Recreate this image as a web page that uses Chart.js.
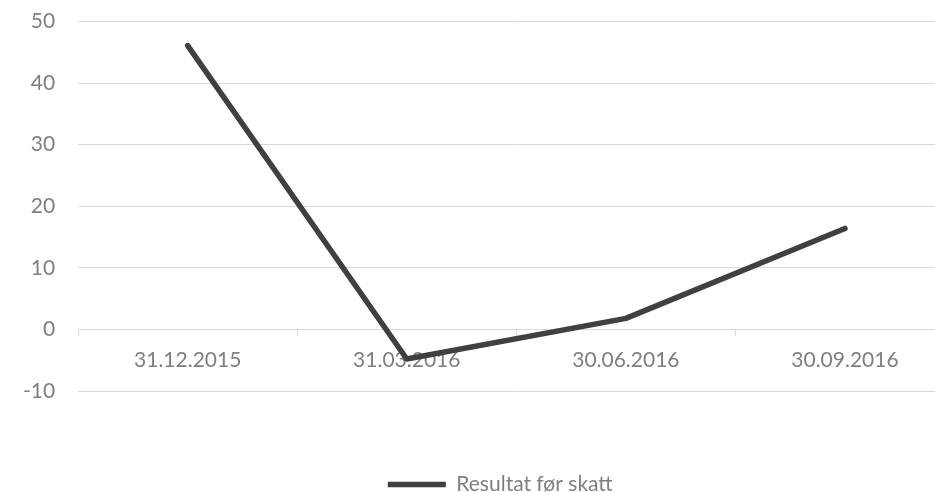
<!DOCTYPE html>
<html>
<head>
<meta charset="utf-8">
<script src="https://cdn.jsdelivr.net/npm/chart.js@4/dist/chart.umd.min.js"></script>
<style>
html,body{margin:0;padding:0;background:#fff;overflow:hidden;width:935px;height:492px;}
canvas{display:block;margin-top:-14px;}
</style>
</head>
<body>
<canvas id="c" width="960" height="506"></canvas>
<script>
const categories = ['31.12.2015', '31.03.2016', '30.06.2016', '30.09.2016'];
const seriesName = 'Resultat før skatt';
const values = [46.1, -4.8, 1.8, 16.4];
const yMin = -10, yMax = 50, yStep = 10;

const textColor = '#7f7f7f';
const gridColor = '#d9d9d9';
const lineColor = '#404040';
const fontFamily = 'Lato, "Open Sans", sans-serif';

const shiftLegend = {
  id: 'shiftLegend',
  afterLayout(chart) {
    const lg = chart.legend;
    if (lg) { lg.left += 23; lg.right += 23; lg.top += 73; lg.bottom += 73; }
  }
};

new Chart(document.getElementById('c'), {
  type: 'line',
  data: {
    labels: categories,
    datasets: [{
      label: seriesName,
      data: values,
      borderColor: lineColor,
      backgroundColor: lineColor,
      borderWidth: 5.5,
      borderCapStyle: 'round',
      borderJoinStyle: 'round',
      pointRadius: 0,
      pointHoverRadius: 0,
      tension: 0,
      fill: false
    }]
  },
  options: {
    responsive: false,
    animation: false,
    layout: { padding: { left: 0, right: 5.5, top: 0, bottom: 60 } },
    plugins: {
      tooltip: { enabled: false },
      legend: {
        position: 'bottom',
        labels: {
          color: textColor,
          font: { family: fontFamily, size: 21 },
          boxWidth: 58,
          boxHeight: 0,
          padding: 10,
          generateLabels(chart) {
            const ds = chart.data.datasets[0];
            return [{
              text: ds.label,
              strokeStyle: lineColor,
              fillStyle: lineColor,
              lineWidth: 5.5,
              lineCap: 'round',
              fontColor: textColor,
              datasetIndex: 0
            }];
          }
        }
      }
    },
    scales: {
      x: {
        type: 'category',
        position: { y: 0 },
        offset: true,
        grid: {
          offset: true,
          drawOnChartArea: false,
          drawTicks: true,
          tickLength: 6,
          color: gridColor
        },
        border: { display: true, color: gridColor, width: 1 },
        ticks: {
          color: textColor,
          font: { family: fontFamily, size: 21 },
          padding: 12,
          maxRotation: 0
        }
      },
      y: {
        min: yMin,
        max: yMax,
        grid: { color: gridColor, lineWidth: 1, drawTicks: false },
        border: { display: false },
        ticks: {
          stepSize: yStep,
          color: textColor,
          font: { family: fontFamily, size: 21 },
          padding: 23
        }
      }
    }
  },
  plugins: [shiftLegend]
});
</script>
</body>
</html>
